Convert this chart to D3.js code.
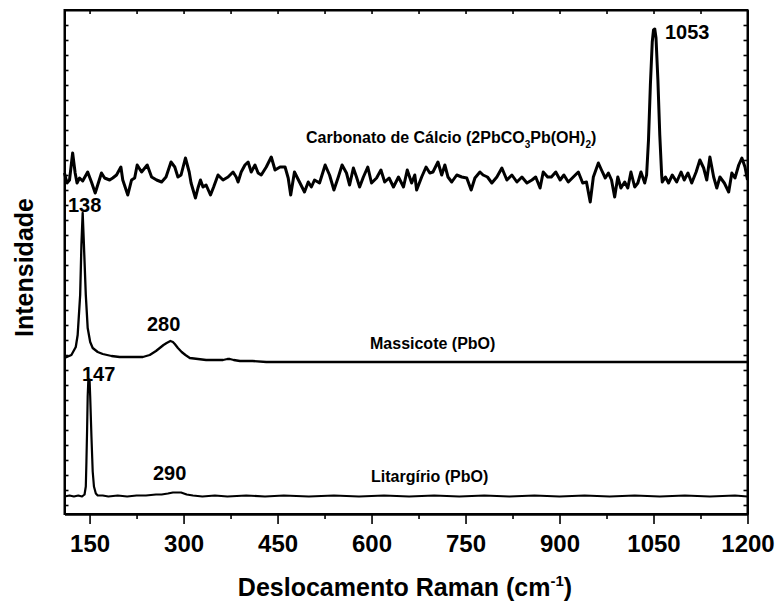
<!DOCTYPE html>
<html>
<head>
<meta charset="utf-8">
<script src="https://cdn.jsdelivr.net/npm/d3@7"></script>
<style>
  body { margin: 0; background: #fff; }
  text { font-family: Arial, 'Liberation Sans', sans-serif; font-weight: bold; fill: #000; }
</style>
</head>
<body>
<svg id="chart" width="776" height="603"></svg>
<script>
// spectra: [wavenumber (cm-1), intensity above the trace baseline]
const carbonato = [
  [110, 7], [114, -3], [118, 0], [123, 27], [127, 7], [130, -3], [134, 2], [139, -1], [147, 8], [153, -2],
  [159, -13], [163, -5], [169, 7], [174, 2], [182, 0], [187, 2], [193, 5], [200, 13], [203, 0], [211, -15],
  [217, 0], [222, 2], [226, 15], [233, 8], [242, 15], [249, 3], [257, 0], [265, -2], [272, 3], [280, 18],
  [286, 13], [291, 3], [296, 5], [303, 22], [309, 8], [312, -3], [319, -18], [323, -8], [327, 0], [331, -7],
  [336, -5], [343, -15], [348, -7], [355, 5], [363, 0], [371, 3], [379, 8], [384, 3], [387, -2], [392, 8],
  [398, 15], [403, 18], [408, 8], [414, 15], [419, 7], [424, 5], [432, 13], [440, 23], [446, 10], [454, 13],
  [462, 13], [467, 2], [471, -15], [477, 8], [485, -2], [493, -12], [499, -2], [504, -7], [509, 0], [517, -3],
  [526, 15], [533, 5], [540, -10], [547, 3], [553, 15], [560, 7], [565, -5], [571, 12], [576, 3], [581, -7],
  [587, 3], [594, 13], [600, -3], [608, 2], [615, 10], [621, -2], [628, 2], [635, -7], [643, 3], [651, -7],
  [657, 10], [664, -3], [669, 5], [672, -10], [680, 3], [687, 13], [693, 7], [698, 8], [706, 18], [712, 5],
  [717, 15], [722, 3], [728, -2], [736, 5], [744, 3], [752, 2], [759, -10], [765, 2], [773, 8], [778, 5],
  [785, 3], [792, -3], [800, 3], [808, 12], [816, 0], [824, 5], [832, -2], [840, 3], [848, -3], [856, 0],
  [862, 3], [869, -8], [874, 8], [881, 3], [887, 3], [894, 8], [901, 0], [907, 5], [914, -2], [922, 3],
  [930, 8], [937, -3], [943, -2], [949, -22], [954, 3], [962, 17], [967, 10], [973, 2], [978, 7], [983, 0],
  [988, -17], [993, 3], [998, -8], [1004, -2], [1009, -8], [1014, 8], [1020, -7], [1025, -3], [1030, 8], [1036, -3],
  [1039, 5], [1042, 40], [1045, 95], [1048, 138], [1050, 150], [1052, 151], [1054, 142], [1057, 100], [1060, 45], [1063, 5],
  [1064, -2], [1069, 3], [1074, -3], [1080, 5], [1087, -2], [1094, 8], [1099, 0], [1105, 7], [1111, -3], [1118, 8],
  [1124, 20], [1130, 12], [1135, 0], [1140, 23], [1146, 3], [1151, -8], [1156, 3], [1163, -3], [1170, -12], [1175, 7],
  [1180, 2], [1186, 15], [1191, 22], [1196, 13], [1200, 0]
]

const massicote = [
  [110, 4], [121, 7], [128, 15], [131, 27], [135, 67], [137, 117], [139, 149], [141, 117], [144, 67], [147, 34],
  [151, 20], [155, 14], [163, 10], [171, 8], [185, 6], [198, 5], [215, 5], [235, 5], [246, 7], [256, 11],
  [262, 14], [268, 17], [273, 19], [279, 21], [283, 20], [286, 18], [291, 14], [297, 10], [303, 7], [310, 4],
  [323, 3], [336, 2], [350, 2], [363, 2], [370, 3], [374, 3], [380, 2], [390, 1], [410, 1], [432, 0],
  [500, 0], [600, 0], [800, 0], [1000, 0], [1200, 0]
]

const litargirio = [
  [110, 0], [118, 1], [125, 0], [132, 1], [138, 0], [142, 2], [144, 10], [145, 35], [146, 65], [147, 100],
  [148, 116], [150, 117], [151, 100], [152, 80], [153, 60], [155, 25], [157, 10], [160, 3], [163, 1], [171, 1],
  [180, 0], [195, 1], [210, 0], [225, 1], [240, 1], [256, 2], [265, 2], [275, 3], [283, 4], [289, 4],
  [296, 4], [305, 2], [315, 1], [330, 0], [350, 1], [370, 0], [400, 1], [430, 0], [460, 1], [500, 0],
  [540, 1], [580, 0], [620, 1], [660, 0], [700, 1], [740, 0], [780, 1], [820, 0], [860, 1], [900, 0],
  [940, 1], [980, 0], [1020, 1], [1060, 0], [1100, 1], [1140, 0], [1180, 1], [1200, 0]
]

// vertical stacking of the three traces
const offsetCarbonato = 334
const offsetMassicote = 152
const offsetLitargirio = 17.5

const xTicks = [150, 300, 450, 600, 750, 900, 1050, 1200]
const xMinorTicks = [225, 375, 525, 675, 825, 975, 1125]

const plotLeft = 64.5
const plotRight = 747.5
const plotTop = 10
const plotBottom = 514

const svg = d3.select('#chart')

const x = d3.scaleLinear().domain([110, 1200]).range([plotLeft, plotRight])
const y = d3.scaleLinear().domain([0, 504]).range([plotBottom, plotTop])

function drawTrace (data, offset, width) {
  const line = d3.line()
    .x(d => x(d[0]))
    .y(d => y(d[1] + offset))
  svg.append('path')
    .datum(data)
    .attr('d', line)
    .attr('fill', 'none')
    .attr('stroke', '#000')
    .attr('stroke-width', width)
    .attr('stroke-linejoin', 'round')
}

drawTrace(carbonato, offsetCarbonato, 3)
drawTrace(massicote, offsetMassicote, 2.3)
drawTrace(litargirio, offsetLitargirio, 2.2)

// axes
const yTicks = d3.range(9, 504, 15)

svg.append('g')
  .attr('class', 'x axis')
  .attr('transform', `translate(0,${plotBottom})`)
  .call(d3.axisBottom(x).tickValues(xTicks).tickSize(10).tickSizeOuter(0).tickPadding(11).tickFormat(d3.format('d')))

svg.append('g')
  .attr('class', 'x minor')
  .attr('transform', `translate(0,${plotBottom})`)
  .call(d3.axisBottom(x).tickValues(xMinorTicks).tickSize(5).tickSizeOuter(0).tickFormat(''))

svg.append('g')
  .attr('class', 'x top')
  .attr('transform', `translate(0,${plotTop})`)
  .call(d3.axisTop(x).tickValues(d3.range(150, 1201, 75)).tickSize(-4).tickSizeOuter(0).tickFormat(''))

svg.append('g')
  .attr('class', 'y axis')
  .attr('transform', `translate(${plotLeft},0)`)
  .call(d3.axisLeft(y).tickValues(yTicks).tickSize(-4).tickSizeOuter(0).tickFormat(''))

svg.append('g')
  .attr('class', 'y right')
  .attr('transform', `translate(${plotRight},0)`)
  .call(d3.axisRight(y).tickValues(yTicks).tickSize(-4).tickSizeOuter(0).tickFormat(''))

svg.selectAll('.tick line').attr('stroke', '#000').attr('stroke-width', 1.6)
svg.selectAll('.domain').attr('stroke', '#000').attr('stroke-width', 2)
svg.selectAll('.x.axis text')
  .style('font-size', '24px')
  .style('font-family', 'Arial, "Liberation Sans", sans-serif')
  .style('font-weight', 'bold')
  .attr('fill', '#000')

svg.append('rect')
  .attr('x', plotLeft)
  .attr('y', plotTop)
  .attr('width', plotRight - plotLeft)
  .attr('height', plotBottom - plotTop)
  .attr('fill', 'none')
  .attr('stroke', '#000')
  .attr('stroke-width', 2)

// axis titles
const xTitle = svg.append('text')
  .attr('x', 405)
  .attr('y', 596)
  .attr('text-anchor', 'middle')
  .style('font-size', '25px')
xTitle.append('tspan').text('Deslocamento Raman (cm')
xTitle.append('tspan').text('-1').attr('dy', -10).style('font-size', '15px')
xTitle.append('tspan').text(')').attr('dy', 10)

svg.append('text')
  .attr('transform', 'translate(33,267.5) rotate(-90)')
  .attr('text-anchor', 'middle')
  .style('font-size', '25px')
  .text('Intensidade')

// peak and trace labels
function label (txt, px, py, size) {
  return svg.append('text')
    .attr('x', px)
    .attr('y', py)
    .style('font-size', size + 'px')
    .text(txt)
}

label('1053', 665, 39, 20)
label('138', 68, 212, 20)
label('280', 147, 331, 20)
label('147', 82, 381, 20)
label('290', 153, 480, 20)
label('Massicote (PbO)', 370, 349, 16)
label('Litargírio (PbO)', 371, 482, 16)

const carbLabel = svg.append('text')
  .attr('x', 306)
  .attr('y', 143)
  .style('font-size', '16px')
carbLabel.append('tspan').text('Carbonato de Cálcio (2PbCO')
carbLabel.append('tspan').text('3').attr('dy', 5).style('font-size', '10px')
carbLabel.append('tspan').text('Pb(OH)').attr('dy', -5)
carbLabel.append('tspan').text('2').attr('dy', 5).style('font-size', '10px')
carbLabel.append('tspan').text(')').attr('dy', -5)
</script>
</body>
</html>
